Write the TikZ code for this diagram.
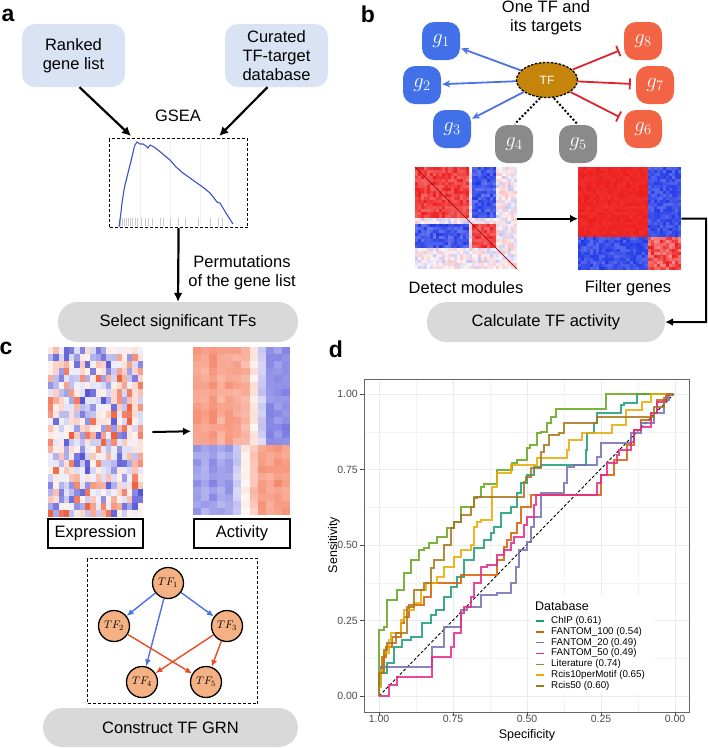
\documentclass[tikz,border=0pt]{standalone}
\usepackage{fontspec}
\setmainfont{Liberation Sans}
\usetikzlibrary{arrows.meta,shapes.geometric,calc}
\definecolor{lblue}{HTML}{DAE3F3}
\definecolor{pillgrey}{HTML}{D9D9D9}
\definecolor{gblue}{HTML}{4270E8}
\definecolor{ggrey}{HTML}{8A8A8A}
\definecolor{gred}{HTML}{F26444}
\definecolor{tfgold}{HTML}{C5850C}
\definecolor{eblue}{HTML}{4D72E6}
\definecolor{ered}{HTML}{E0232E}
\definecolor{tforange}{HTML}{F4B183}
\definecolor{hred}{HTML}{EE1C1C}
\definecolor{hblue}{HTML}{2038E6}
\definecolor{xred}{HTML}{EE4A22}
\definecolor{xblue}{HTML}{3A3AD0}
\definecolor{ared}{HTML}{F2603A}
\definecolor{ablue}{HTML}{4A4AD8}
\definecolor{gseablue}{HTML}{3F51C8}
\definecolor{rocChip}{HTML}{1B9E77}
\definecolor{rocFhundred}{HTML}{D95F02}
\definecolor{rocFtwenty}{HTML}{7570B3}
\definecolor{rocFfifty}{HTML}{E7298A}
\definecolor{rocLit}{HTML}{66A61E}
\definecolor{rocRten}{HTML}{E6AB02}
\definecolor{rocRfifty}{HTML}{A6761D}
\definecolor{gridc}{HTML}{EBEBEB}
\definecolor{ticktext}{HTML}{4D4D4D}
\tikzset{
  lbox/.style={fill=lblue, rounded corners=13pt, minimum width=103pt, minimum height=63pt, align=center, inner sep=2pt},
  pillbox/.style={fill=pillgrey, rounded corners=19.5pt, minimum height=40pt, align=center, inner sep=2pt},
  gnode/.style={rounded corners=12pt, minimum width=38pt, minimum height=38pt, inner sep=0pt, text=white, font=\fontsize{21}{21}\selectfont},
  tfn/.style={circle, draw=black, line width=1.3pt, fill=tforange, minimum size=31pt, inner sep=0pt, font=\fontsize{11}{11}\selectfont},
  bigarrow/.style={line width=2.2pt, -{Latex[length=9pt,width=9pt]}},
  panellab/.style={font=\fontsize{23}{23}\selectfont\bfseries, inner sep=0pt},
  txt/.style={align=center, inner sep=0pt},
  labbox/.style={draw=black, line width=1.2pt, fill=white, minimum height=29pt, inner sep=0pt},
  grnblue/.style={eblue, line width=1.4pt, -{Latex[length=7pt,width=6pt]}},
  grnred/.style={xred, line width=1.4pt, -{Latex[length=7pt,width=6pt]}},
  roc/.style={line width=1.1pt, draw opacity=0.85},
  legkey/.style={line width=1.4pt},
  legtxt/.style={font=\fontsize{9.8}{9.8}\selectfont, inner sep=0pt, anchor=west},
  ticklab/.style={font=\fontsize{10.5}{10.5}\selectfont, text=ticktext, inner sep=0pt}
}
\begin{document}
\begin{tikzpicture}[x=1pt,y=-1pt,font=\fontsize{16.5}{19}\selectfont]
\useasboundingbox (0,0) rectangle (708,748);
\fill[white] (0,0) rectangle (708,748);

% ================= panel a =================
\node[panellab] (la) at (8,15) {a};
\node[lbox] (ranked) at (73.5,55.5) {Ranked\\gene list};
\node[lbox] (curated) at (276.5,55.5) {Curated\\TF-target\\database};
\node[txt] (gsealab) at (178,116) {GSEA};
\node[draw=black, dash pattern=on 3pt off 2pt, line width=1.2pt, minimum width=138pt, minimum height=89pt, inner sep=0pt, anchor=north west] (gseabox) at (109,138) {};
\foreach \x in {140,170,200,228}{\draw[gray!12, line width=0.6pt] (\x,140) -- (\x,226);}
\foreach \x in {120,122,124,126,128,130,132,135,137,141,145,148,152,160,163,170,178,185,198,210,218,222}{
  \draw[gray!40, line width=0.6pt] (\x,218) -- (\x,226);}
\draw[gseablue, line width=1.1pt] (119,227) -- (121,212) -- (122,203) -- (124,190) -- (125,185) -- (128,173) -- (130,165) -- (132,157) -- (134,148) -- (135,145) -- (137,142) -- (140,144) -- (143,144) -- (146,146) -- (148,148) -- (150,145) -- (154,147) -- (158,150) -- (164,155) -- (170,160) -- (176,167) -- (183,173) -- (190,178) -- (197,183) -- (204,188) -- (210,193) -- (214,198) -- (217,202) -- (220,203) -- (226,213) -- (233,224);
\draw[bigarrow] ([xshift=6pt]ranked.south) -- ([xshift=22pt,yshift=2pt]gseabox.north west);
\draw[bigarrow] ([xshift=-9pt]curated.south) -- ([xshift=-29pt,yshift=2pt]gseabox.north east);
\node[pillbox, minimum width=240pt] (select) at (178,322) {Select significant TFs};
\draw[bigarrow] (gseabox.south) -- (select.north);
\node[txt] (perm) at (242,273) {Permutations\\of the gene list};

% ================= panel b =================
\node[panellab] (lb) at (368,14) {b};
\node[txt] (onetf) at (546,18) {One TF and\\its targets};
\node[ellipse, draw=black, dash pattern=on 2.5pt off 1.5pt, line width=1.3pt, fill=tfgold, minimum width=61pt, minimum height=35pt, inner sep=0pt, text=white, font=\fontsize{12}{12}\selectfont] (tf) at (547,80) {TF};
\node[gnode, fill=gblue] (g1) at (441,41) {$g_1$};
\node[gnode, fill=gblue] (g2) at (422,85) {$g_2$};
\node[gnode, fill=gblue] (g3) at (452,129) {$g_3$};
\node[gnode, fill=ggrey] (g4) at (514,144) {$g_4$};
\node[gnode, fill=ggrey] (g5) at (578,144) {$g_5$};
\node[gnode, fill=gred] (g6) at (643,129) {$g_6$};
\node[gnode, fill=gred] (g7) at (655,85) {$g_7$};
\node[gnode, fill=gred] (g8) at (643,41) {$g_8$};
\foreach \g in {g1,g2,g3}{\draw[eblue, line width=1.8pt, -{Stealth[length=8pt,width=7pt]}, shorten >=1pt] (tf) -- (\g);}
\foreach \g in {g6,g7,g8}{\draw[ered, line width=1.8pt, -{Bar[width=11pt,line width=1.8pt]}, shorten >=5pt] (tf) -- (\g);}
\draw[black, line width=2pt, dash pattern=on 2pt off 2pt, shorten >=1pt] ([xshift=-7pt]tf.south) -- (g4.north);
\draw[black, line width=2pt, dash pattern=on 2pt off 2pt, shorten >=1pt] ([xshift=7pt]tf.south) -- (g5.north);

% heatmap: detect modules
\begin{scope}[shift={(415,167)}]
\pgfmathsetseed{7}
\foreach \i in {0,...,33}{\foreach \j in {0,...,33}{
  \pgfmathsetmacro\r{rnd}
  \pgfmathtruncatemacro\bi{(\i<18) ? 0 : ((\i<19) ? 2 : ((\i<27) ? 1 : 2))}
  \pgfmathtruncatemacro\bj{(\j<17) ? 0 : ((\j<19) ? 2 : ((\j<27) ? 1 : 2))}
  \pgfmathtruncatemacro\t{((\bi==2) || (\bj==2)) ? ((\r<0.6) ? 2 : 3) : ((\bi==\bj) ? 0 : 1)}
  \pgfmathtruncatemacro\s{(\t<2) ? 68+32*\r : ((\t==2) ? 5+35*\r : 5+60*(\r-0.6))}
  \ifcase\t
    \fill[hred!\s!white] (\i*3,\j*3) rectangle ++(3.1,3.1);
  \or
    \fill[hblue!\s!white] (\i*3,\j*3) rectangle ++(3.1,3.1);
  \or
    \fill[hred!\s!white] (\i*3,\j*3) rectangle ++(3.1,3.1);
  \or
    \fill[hblue!\s!white] (\i*3,\j*3) rectangle ++(3.1,3.1);
  \fi
}}
\draw[hred!75!black, line width=0.8pt] (0,0) -- (102,102);
\end{scope}
\node[minimum width=102pt, minimum height=103pt, inner sep=0pt, anchor=north west] (hmA) at (415,167) {};
% heatmap: filter genes
\begin{scope}[shift={(578,167)}]
\pgfmathsetseed{19}
\foreach \i in {0,...,33}{\foreach \j in {0,...,33}{
  \pgfmathsetmacro\r{rnd}
  \pgfmathtruncatemacro\bi{(\i<23) ? 0 : 1}
  \pgfmathtruncatemacro\bj{(\j<23) ? 0 : 1}
  \pgfmathtruncatemacro\t{(\bi==\bj) ? 0 : 1}
  \pgfmathtruncatemacro\s{(\t==1) ? 75+25*\r : ((\bi==0) ? 92+8*\r : 50+50*\r)}
  \ifcase\t
    \fill[hred!\s!white] (\i*3.03,\j*3.03) rectangle ++(3.13,3.13);
  \or
    \fill[hblue!\s!white] (\i*3.03,\j*3.03) rectangle ++(3.13,3.13);
  \fi
}}
\end{scope}
\node[minimum width=103pt, minimum height=103pt, inner sep=0pt, anchor=north west] (hmB) at (578,167) {};
\draw[line width=2pt, -{Latex[length=8pt,width=8pt]}] (hmA.east) -- (hmB.west);
\node[txt] (detect) at (466,288) {Detect modules};
\node[txt] (filter) at (628,288) {Filter genes};
\node[pillbox, minimum width=238pt] (calc) at (546,322) {Calculate TF activity};
\coordinate (turn) at (706,218.5);
\draw[line width=2pt, -{Latex[length=8pt,width=8pt]}] (hmB.east) -- (turn) |- (calc.east);

% ================= panel c =================
\node[panellab] (lc) at (6,348) {c};
\begin{scope}[shift={(48,347)}]
\pgfmathsetseed{42}
\foreach \i in {0,...,17}{\foreach \j in {0,...,23}{
  \pgfmathsetmacro\rv{rand}
  \pgfmathtruncatemacro\s{8+82*abs(\rv)*abs(\rv)}
  \ifdim\rv pt>0pt
    \fill[xred!\s!white] (\i*5.28,\j*7.08) rectangle ++(5.38,7.18);
  \else
    \fill[xblue!\s!white] (\i*5.28,\j*7.08) rectangle ++(5.38,7.18);
  \fi
}}
\end{scope}
\node[minimum width=95pt, minimum height=170pt, inner sep=0pt, anchor=north west] (exphm) at (48,347) {};
\begin{scope}[shift={(193,347)}]
\pgfmathsetseed{5}
\foreach \c/\vt/\vb in {0/62/-56, 1/55/-48, 2/66/-60, 3/52/-46, 4/60/-54, 5/55/-30, 6/48/8, 7/15/38, 8/-28/62, 9/-64/56, 10/-58/66, 11/-66/60}{
  \foreach \j in {0,...,23}{
    \pgfmathtruncatemacro\v{((\j<14) ? \vt : \vb) + 9*rand}
    \ifnum\v>0
      \fill[ared!\v!white] (\c*8.08,\j*7) rectangle ++(8.18,7.1);
    \else
      \pgfmathtruncatemacro\va{-\v}
      \fill[ablue!\va!white] (\c*8.08,\j*7) rectangle ++(8.18,7.1);
    \fi
}}
\end{scope}
\node[minimum width=97pt, minimum height=168pt, inner sep=0pt, anchor=north west] (acthm) at (193,347) {};
\draw[line width=2pt, -{Latex[length=8pt,width=8pt]}, shorten <=9pt, shorten >=2pt] (exphm.east) -- (acthm.west);
\node[labbox, minimum width=95pt] (expl) at (95.5,533.5) {Expression};
\node[labbox, minimum width=96pt] (actl) at (242,533.5) {Activity};

\node[draw=black, dash pattern=on 3pt off 2pt, line width=1.2pt, minimum width=170pt, minimum height=145pt, inner sep=0pt, anchor=north west] (grnbox) at (87,558) {};
\node[tfn] (t1) at (168,583) {$TF_1$};
\node[tfn] (t2) at (114,626) {$TF_2$};
\node[tfn] (t3) at (227,626) {$TF_3$};
\node[tfn] (t4) at (142,682) {$TF_4$};
\node[tfn] (t5) at (206,682) {$TF_5$};
\draw[grnblue] (t1) -- (t2);
\draw[grnblue] (t1) -- (t3);
\draw[grnblue] (t1) -- (t4);
\draw[grnred] (t2) -- (t5);
\draw[grnred] (t3) -- (t4);
\draw[grnred] (t3) -- (t5);
\node[pillbox, minimum width=255pt, minimum height=39pt] (construct) at (170.5,727.5) {Construct TF GRN};

% ================= panel d =================
\node[panellab] (ld) at (336,349) {d};
\foreach \x in {416,490,564,638}{\draw[gridc!60, line width=0.5pt] (\x,379) -- (\x,712);}
\foreach \y in {432,507,583,658}{\draw[gridc!60, line width=0.5pt] (364,\y) -- (689,\y);}
\foreach \x in {379,453,527,601,675}{\draw[gridc, line width=1pt] (\x,379) -- (\x,712);}
\foreach \y in {394,469.5,545,620.5,696}{\draw[gridc, line width=1pt] (364,\y) -- (689,\y);}
\draw[black, line width=0.9pt, dash pattern=on 3pt off 2pt] (379,696) -- (674,394);
\draw[roc, draw=rocChip] (379,696) |- (381,685) |- (387,673) |- (394,663) |- (402,647) |- (411,640) |- (422,637) |- (431,623) |- (436,615) |- (444,610) |- (451,597) |- (457,587) |- (464,577) |- (474,560) |- (484,548) |- (491,540) |- (494,533) |- (501,527) |- (511,513) |- (517,507) |- (521,493) |- (527,483) |- (534,475) |- (541,467) |- (586,465) |- (587,450) |- (594,433) |- (597,423) |- (606,413) |- (621,413) |- (624,405) |- (637,403) |- (639,394) |- (674,394);
\draw[roc, draw=rocFhundred] (379,696) |- (382,673) |- (386,657) |- (392,647) |- (401,637) |- (404,623) |- (409,617) |- (414,605) |- (424,605) |- (431,597) |- (447,583) |- (461,583) |- (464,575) |- (497,575) |- (504,560) |- (507,547) |- (511,540) |- (517,533) |- (521,523) |- (531,507) |- (537,495) |- (601,495) |- (601,485) |- (614,475) |- (627,460) |- (634,445) |- (641,430) |- (651,420) |- (657,413) |- (667,400) |- (674,394);
\draw[roc, draw=rocFtwenty] (379,696) |- (381,680) |- (384,667) |- (432,667) |- (432,657) |- (444,647) |- (461,627) |- (467,610) |- (481,607) |- (497,595) |- (511,593) |- (516,583) |- (519,567) |- (527,550) |- (531,542) |- (534,527) |- (541,517) |- (564,493) |- (567,483) |- (574,467) |- (577,465) |- (597,465) |- (601,457) |- (609,443) |- (631,443) |- (641,433) |- (654,423) |- (664,413) |- (669,400) |- (674,394);
\draw[roc, draw=rocFfifty] (379,696) |- (389,696) |- (389,685) |- (397,685) |- (397,677) |- (432,677) |- (432,667) |- (451,657) |- (454,647) |- (461,633) |- (464,613) |- (471,607) |- (474,597) |- (481,583) |- (487,567) |- (497,565) |- (504,555) |- (511,550) |- (514,543) |- (524,537) |- (527,525) |- (534,517) |- (536,505) |- (544,495) |- (597,495) |- (601,483) |- (607,475) |- (617,463) |- (619,455) |- (631,450) |- (634,442) |- (641,430) |- (651,427) |- (657,413) |- (666,402) |- (671,395) |- (674,394);
\draw[roc, draw=rocLit] (379,696) |- (379,680) |- (384,630) |- (387,627) |- (397,600) |- (404,590) |- (411,573) |- (419,560) |- (424,550) |- (429,548) |- (437,543) |- (447,537) |- (454,528) |- (461,522) |- (474,507) |- (481,497) |- (484,487) |- (497,484) |- (512,470) |- (517,463) |- (527,460) |- (530,448) |- (537,445) |- (541,433) |- (547,432) |- (551,423) |- (556,417) |- (564,409) |- (606,409) |- (606,394) |- (674,394);
\draw[roc, draw=rocRten] (379,696) |- (381,687) |- (384,670) |- (389,653) |- (391,640) |- (401,633) |- (404,620) |- (414,610) |- (421,603) |- (426,590) |- (437,583) |- (444,577) |- (454,567) |- (461,557) |- (471,550) |- (474,545) |- (477,527) |- (481,522) |- (492,520) |- (492,497) |- (497,487) |- (497,473) |- (511,473) |- (537,465) |- (554,458) |- (567,458) |- (569,450) |- (582,440) |- (594,433) |- (612,433) |- (612,425) |- (626,425) |- (626,417) |- (636,410) |- (642,410) |- (642,402) |- (651,402) |- (651,394) |- (674,394);
\draw[roc, draw=rocRfifty] (379,696) |- (384,673) |- (387,650) |- (396,643) |- (407,633) |- (407,617) |- (414,607) |- (424,590) |- (431,583) |- (434,568) |- (444,560) |- (451,545) |- (454,528) |- (461,522) |- (471,515) |- (474,507) |- (477,498) |- (524,497) |- (526,482) |- (531,477) |- (541,468) |- (544,452) |- (549,445) |- (559,435) |- (564,433) |- (597,423) |- (654,417) |- (664,407) |- (667,398) |- (672,394) |- (674,394);
\draw[gray!80!black, line width=1pt] (364,379) rectangle (689,712);
\foreach \v/\y in {1.00/394, 0.75/469.5, 0.50/545, 0.25/620.5, 0.00/696}{
  \draw[ticktext, line width=0.8pt] (360,\y) -- (364,\y);
  \node[ticklab, anchor=east] (yt\v) at (358,\y) {\v};}
\foreach \v/\x in {1.00/379, 0.75/453, 0.50/527, 0.25/601, 0.00/675}{
  \draw[ticktext, line width=0.8pt] (\x,712) -- (\x,716);
  \node[ticklab] (xt\v) at (\x,719) {\v};}
\node[font=\fontsize{12.5}{12.5}\selectfont, inner sep=0pt, rotate=90] (ytitle) at (334,545) {Sensitivity};
\node[font=\fontsize{12.5}{12.5}\selectfont, inner sep=0pt] (xtitle) at (527,735) {Specificity};
% legend
\fill[white] (531,596) rectangle (655,693);
\node[font=\fontsize{12.5}{12.5}\selectfont, inner sep=0pt, anchor=west] (legt) at (535,606) {Database};
\draw[legkey, rocChip]     (536,621)   -- (544,621);
\draw[legkey, rocFhundred] (536,631.8) -- (544,631.8);
\draw[legkey, rocFtwenty]  (536,642.6) -- (544,642.6);
\draw[legkey, rocFfifty]   (536,653.4) -- (544,653.4);
\draw[legkey, rocLit]      (536,664.2) -- (544,664.2);
\draw[legkey, rocRten]     (536,675)   -- (544,675);
\draw[legkey, rocRfifty]   (536,685.8) -- (544,685.8);
\node[legtxt] (leg0) at (551,621)   {ChIP (0.61)};
\node[legtxt] (leg1) at (551,631.8) {FANTOM\_100 (0.54)};
\node[legtxt] (leg2) at (551,642.6) {FANTOM\_20 (0.49)};
\node[legtxt] (leg3) at (551,653.4) {FANTOM\_50 (0.49)};
\node[legtxt] (leg4) at (551,664.2) {Literature (0.74)};
\node[legtxt] (leg5) at (551,675)   {Rcis10perMotif (0.65)};
\node[legtxt] (leg6) at (551,685.8) {Rcis50 (0.60)};
\end{tikzpicture}
\end{document}
